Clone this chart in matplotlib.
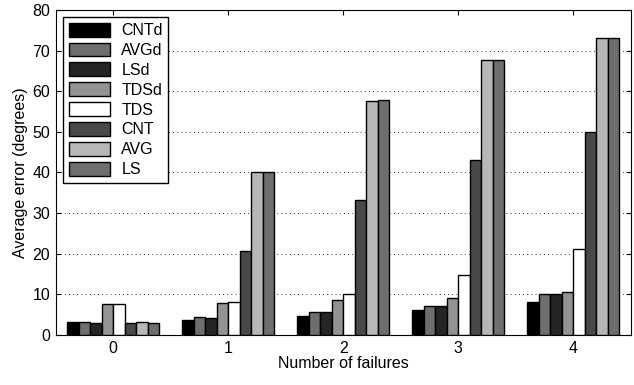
import numpy as np
import matplotlib.pyplot as plt

plt.rcParams['font.family'] = ['Liberation Sans', 'DejaVu Sans']

failures = [0, 1, 2, 3, 4]
methods = ['CNTd', 'AVGd', 'LSd', 'TDSd', 'TDS', 'CNT', 'AVG', 'LS']
colors = ['#000000', '#6e6e6e', '#252525', '#939393', '#ffffff', '#494949', '#b7b7b7', '#6e6e6e']

cntd = [3.1, 3.8, 4.75, 6.1, 8.2]
avgd = [3.2, 4.3, 5.65, 7.15, 10.0]
lsd = [2.95, 4.1, 5.6, 7.05, 10.0]
tdsd = [7.55, 7.95, 8.55, 9.1, 10.6]
tds = [7.55, 8.1, 10.0, 14.85, 21.25]
cnt = [2.95, 20.7, 33.2, 43.1, 50.0]
avg = [3.1, 40.0, 57.6, 67.6, 73.0]
ls = [2.95, 40.1, 57.8, 67.7, 73.1]

series = [cntd, avgd, lsd, tdsd, tds, cnt, avg, ls]

fig = plt.figure(figsize=(6.34, 3.85), dpi=100)
ax = fig.add_axes([0.088, 0.13, 0.907, 0.844])

x = np.arange(len(failures))
w = 0.1
for i, (name, vals) in enumerate(zip(methods, series)):
    ax.bar(x + (i - 3.5) * w, vals, width=w, color=colors[i], edgecolor='black',
           linewidth=1.0, label=name, zorder=3)

ax.set_xlim(-0.5, 4.5)
ax.set_ylim(0, 80)
ax.set_xticks(x)
ax.set_xticklabels([str(f) for f in failures])
ax.set_yticks(np.arange(0, 81, 10))
ax.yaxis.grid(True, linestyle=(0, (1, 4)), color='black', linewidth=0.6)
ax.tick_params(direction='in', top=True, right=True, labelsize=11.5, pad=4)
ax.set_xlabel('Number of failures', fontsize=11.5, labelpad=0)
ax.set_ylabel('Average error (degrees)', fontsize=11.5, labelpad=3)

leg = ax.legend(loc='upper left', fontsize=11.5, fancybox=False, framealpha=1,
                edgecolor='black', handlelength=2.6, handleheight=0.95,
                labelspacing=0.28, handletextpad=0.7, borderaxespad=0.45,
                borderpad=0.35)
leg.get_frame().set_linewidth(1.0)

fig.savefig('out.png', dpi=100)
